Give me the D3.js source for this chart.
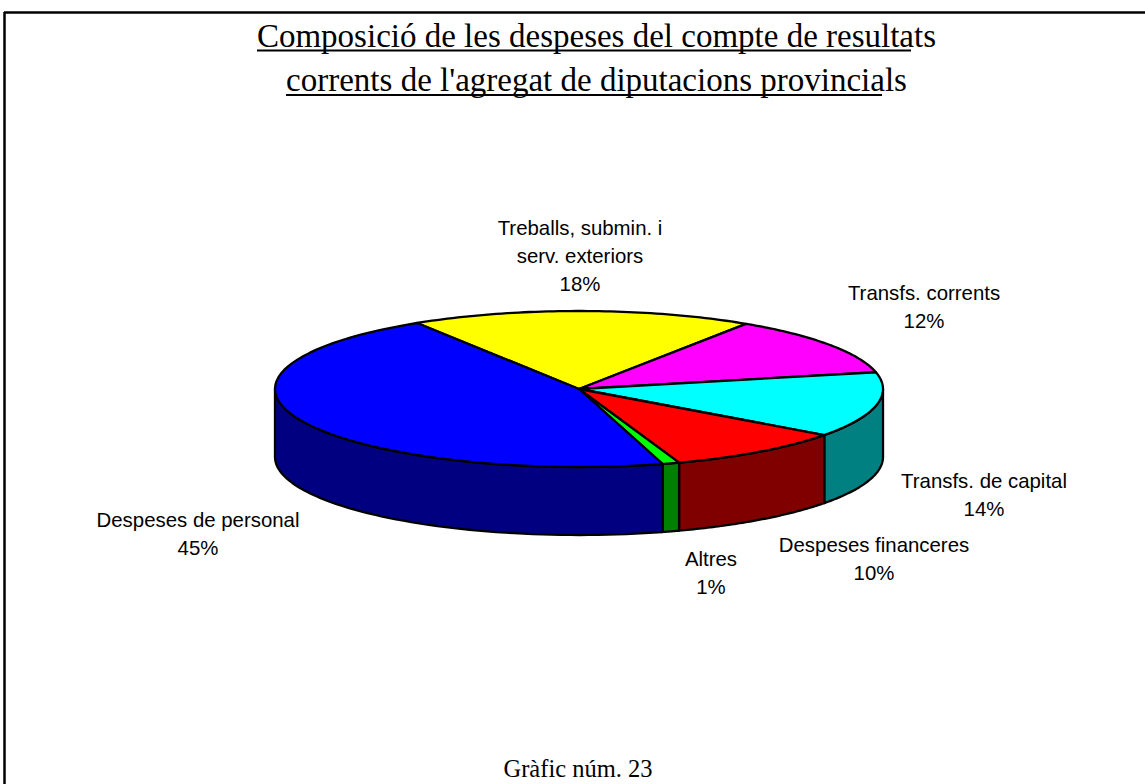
<!DOCTYPE html>
<html><head><meta charset="utf-8">
<script src="https://cdn.jsdelivr.net/npm/d3@7"></script>
<style>html,body{margin:0;padding:0;background:#fff}svg{display:block}</style></head>
<body><svg id="c" width="1145" height="784"></svg>
<script>
const categories = ["Treballs, submin. i serv. exteriors","Transfs. corrents","Transfs. de capital","Despeses financeres","Altres","Despeses de personal"];
const shares = [18.2,12.3,13.5,9.6,0.9,45.49];
const topColors = ["#ffff00","#ff00ff","#00ffff","#ff0000","#00ff00","#0000ff"];
const sideColors = ["#808000","#800080","#008080","#800000","#008000","#000080"];
const labelLines = [["Treballs, submin. i","serv. exteriors","18%"],["Transfs. corrents","12%"],["Transfs. de capital","14%"],["Despeses financeres","10%"],["Altres","1%"],["Despeses de personal","45%"]];
const labelAnchors = [[580,235],[924,300],[984,488],[874,552],[711,566],[198,527]];
const titleLines = ["Composició de les despeses del compte de resultats","corrents de l'agregat de diputacions provincials"];
const footer = "Gràfic núm. 23";

const svg = d3.select("#c");
const cx=579, cy=389, rx=304, ry=78, depth=68, start=-32.2*Math.PI/180;
const px=a=>cx+rx*Math.sin(a), py=a=>cy-ry*Math.cos(a);
const pie=d3.pie().sort(null).startAngle(start).endAngle(start+2*Math.PI);
const arcs=pie(shares);
const line=d3.line();
const sample=(a0,a1)=>d3.range(0,61).map(i=>a0+(a1-a0)*i/60);

// frame
svg.append("line").attr("x1",4).attr("x2",1145).attr("y1",12.5).attr("y2",12.5).attr("stroke","#000").attr("stroke-width",2.5);
svg.append("line").attr("x1",4.5).attr("x2",4.5).attr("y1",12).attr("y2",784).attr("stroke","#000").attr("stroke-width",2.5);

// side walls
const lo=Math.PI/2, hi=3*Math.PI/2;
arcs.forEach((d,i)=>{
  [0,2*Math.PI].forEach(off=>{
    const a0=Math.max(d.startAngle+off,lo), a1=Math.min(d.endAngle+off,hi);
    if(a1<=a0) return;
    const s=sample(a0,a1);
    const pts=s.map(a=>[px(a),py(a)]).concat(s.slice().reverse().map(a=>[px(a),py(a)+depth]));
    svg.append("path").attr("d",line(pts)+"Z").attr("fill",sideColors[i]).attr("stroke","#000").attr("stroke-width",2.3).attr("stroke-linejoin","round");
  });
});
// top slices
arcs.forEach((d,i)=>{
  const pts=[[cx,cy]].concat(sample(d.startAngle,d.endAngle).map(a=>[px(a),py(a)]));
  svg.append("path").attr("d",line(pts)+"Z").attr("fill",topColors[i]).attr("stroke","#000").attr("stroke-width",2.3).attr("stroke-linejoin","round");
});
// data labels
labelLines.forEach((ls,i)=>{
  const t=svg.append("text").attr("text-anchor","middle").attr("font-family","'Liberation Sans',Arial,sans-serif").attr("font-size",20.4).attr("fill","#000");
  ls.forEach((s,j)=>t.append("tspan").attr("x",labelAnchors[i][0]).attr("y",labelAnchors[i][1]+j*28).text(s));
});
// title
const ty=[47,91], ux=[[257,911],[286,882]], uy=[50.5,95];
titleLines.forEach((s,i)=>{
  svg.append("text").attr("x",596.5).attr("y",ty[i]).attr("text-anchor","middle").attr("font-family","'Liberation Serif','Times New Roman',serif").attr("font-size",33).attr("fill","#000").text(s);
  svg.append("line").attr("x1",ux[i][0]).attr("x2",ux[i][1]).attr("y1",uy[i]).attr("y2",uy[i]).attr("stroke","#000").attr("stroke-width",2);
});
svg.append("text").attr("x",578).attr("y",777).attr("text-anchor","middle").attr("font-family","'Liberation Serif','Times New Roman',serif").attr("font-size",24.5).attr("fill","#000").text(footer);
</script></body></html>
